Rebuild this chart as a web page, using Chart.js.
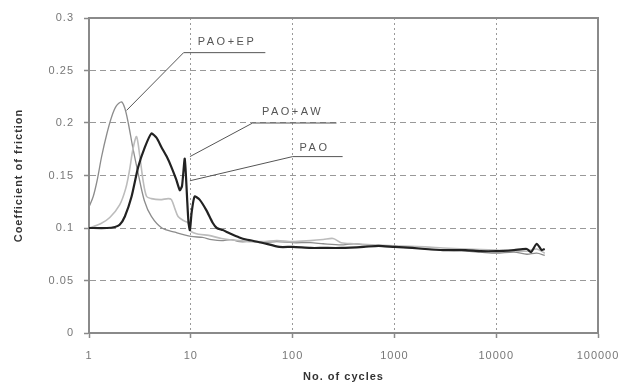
<!DOCTYPE html>
<html>
<head>
<meta charset="utf-8">
<script src="https://cdn.jsdelivr.net/npm/chart.js@4.4.1/dist/chart.umd.min.js"></script>
<style>
  html, body { margin:0; padding:0; background:#fff; }
</style>
</head>
<body>
<canvas id="chartCof" width="633" height="390"></canvas>
<script>
// ==================== Datos ====================
const xTicks = [1, 10, 100, 1000, 10000, 100000];
const yTicks = [0, 0.05, 0.1, 0.15, 0.2, 0.25, 0.3];

const cyclesEP = [1, 1.1, 1.2, 1.33, 1.5, 1.67, 1.85, 2.09, 2.25, 2.43, 2.7, 3.04, 3.5, 4.1, 5.2, 7, 10, 13, 16, 20, 25, 30, 40, 50, 70, 100, 150, 200, 300, 400, 600, 1000, 1500, 2000, 3000, 5000, 7000, 10000, 15000, 20000, 25000, 30000];
const cofEP    = [0.12, 0.13, 0.145, 0.168, 0.19, 0.206, 0.216, 0.22, 0.214, 0.2, 0.176, 0.152, 0.126, 0.111, 0.1, 0.096, 0.092, 0.091, 0.089, 0.088, 0.089, 0.087, 0.087, 0.086, 0.087, 0.086, 0.086, 0.085, 0.084, 0.085, 0.083, 0.082, 0.081, 0.08, 0.079, 0.078, 0.077, 0.076, 0.077, 0.075, 0.076, 0.074];

const cyclesPAO = [1, 1.3, 1.6, 2.0, 2.3, 2.5, 2.7, 2.93, 3.16, 3.4, 3.68, 4.1, 5, 6, 6.45, 7, 7.5, 8.5, 9.4, 10, 12, 15, 20, 30, 50, 70, 100, 150, 200, 250, 300, 400, 600, 1000, 2000, 3000, 5000, 10000, 15000, 20000, 25000, 30000];
const cofPAO    = [0.1, 0.104, 0.11, 0.122, 0.138, 0.155, 0.175, 0.187, 0.168, 0.145, 0.13, 0.128, 0.127, 0.128, 0.127, 0.118, 0.111, 0.107, 0.105, 0.097, 0.094, 0.093, 0.09, 0.088, 0.087, 0.088, 0.087, 0.088, 0.089, 0.09, 0.086, 0.085, 0.084, 0.083, 0.082, 0.081, 0.08, 0.079, 0.078, 0.078, 0.08, 0.076];

const cyclesAW = [1, 1.5, 1.8, 2.0, 2.25, 2.62, 3.04, 3.54, 4.1, 4.6, 5.15, 5.8, 6.45, 7.2, 7.8, 8.2, 8.7, 8.9, 9.2, 9.5, 9.8, 10.2, 10.9, 12.2, 14.2, 16.4, 18, 20.6, 24, 30, 35, 50, 74, 100, 150, 200, 300, 500, 700, 1000, 1500, 2000, 3000, 5000, 7000, 10000, 15000, 20000, 22000, 25000, 28000, 30000];
const cofAW    = [0.1, 0.1, 0.101, 0.103, 0.111, 0.13, 0.158, 0.177, 0.19, 0.186, 0.177, 0.168, 0.158, 0.146, 0.136, 0.14, 0.166, 0.155, 0.128, 0.105, 0.098, 0.115, 0.13, 0.127, 0.117, 0.105, 0.1, 0.098, 0.095, 0.091, 0.089, 0.086, 0.082, 0.082, 0.081, 0.081, 0.081, 0.082, 0.083, 0.082, 0.081, 0.08, 0.079, 0.079, 0.078, 0.078, 0.079, 0.08, 0.077, 0.085, 0.079, 0.08];

// Etiquetas con línea guía: punta, codo, fin del subrayado, posición del texto
const labelNames  = ["PAO+EP", "PAO+AW", "PAO"];
const labelTips   = [[2.34, 0.212], [9.8, 0.168], [9.8, 0.145]];
const labelElbows = [[8.5, 0.267], [40.5, 0.2], [100, 0.168]];
const labelEnds   = [54, 270, 310];
const labelText   = [[11.7, 0.274], [50, 0.208], [117, 0.173]];

const pts = (xs, ys) => xs.map((x, i) => ({ x, y: ys[i] }));
const FONT = "'Liberation Sans', Arial, sans-serif";

// ==================== Plugins ====================
const spacingPlugin = {
  id: "spacing",
  beforeDraw(chart){ chart.ctx.letterSpacing = "1px"; }
};

const framePlugin = {
  id: "frame",
  beforeDatasetsDraw(chart){
    const { ctx, chartArea: a } = chart;
    ctx.save();
    ctx.strokeStyle = "#8a8a8a";
    ctx.lineWidth = 2;
    ctx.strokeRect(a.left, a.top, a.right - a.left, a.bottom - a.top);
    ctx.restore();
  }
};

const leaderPlugin = {
  id: "leaders",
  afterDatasetsDraw(chart){
    const { ctx, scales: { x, y } } = chart;
    ctx.save();
    ctx.strokeStyle = "#555";
    ctx.lineWidth = 1;
    ctx.fillStyle = "#555";
    ctx.font = "11px " + FONT;
    ctx.letterSpacing = "2.5px";
    labelNames.forEach((name, i) => {
      const tx = x.getPixelForValue(labelTips[i][0]), ty = y.getPixelForValue(labelTips[i][1]);
      const ex = x.getPixelForValue(labelElbows[i][0]), ey = y.getPixelForValue(labelElbows[i][1]);
      const ux = x.getPixelForValue(labelEnds[i]);
      ctx.beginPath();
      ctx.moveTo(tx, ty);
      ctx.lineTo(ex, ey);
      ctx.lineTo(ux, ey);
      ctx.stroke();
      ctx.fillText(name, x.getPixelForValue(labelText[i][0]), y.getPixelForValue(labelText[i][1]));
    });
    ctx.restore();
  }
};

// ==================== Gráfica ====================
const el = document.getElementById("chartCof");
new Chart(el.getContext("2d"), {
  type: "line",
  data: {
    datasets: [
      { label:"PAO+EP", data: pts(cyclesEP, cofEP),  borderColor:"#8c8c8c", borderWidth:1.3, pointRadius:0, tension:0.3, order:3 },
      { label:"PAO",    data: pts(cyclesPAO, cofPAO), borderColor:"#bcbcbc", borderWidth:1.6, pointRadius:0, tension:0.3, order:2 },
      { label:"PAO+AW", data: pts(cyclesAW, cofAW),  borderColor:"#222",    borderWidth:2.2, pointRadius:0, tension:0.2, order:1 }
    ]
  },
  options: {
    responsive:false,
    animation:false,
    devicePixelRatio:1,
    layout:{ padding:{ top:18, right:35, left:0, bottom:0 } },
    plugins:{ legend:{ display:false }, tooltip:{ enabled:false } },
    scales:{
      x:{
        type:"logarithmic",
        min:1, max:100000,
        afterBuildTicks(s){ s.ticks = xTicks.map(v => ({ value:v })); },
        afterFit(s){ s.height = 57; },
        ticks:{ color:"#777", font:{ size:11, family:FONT }, padding:11, autoSkip:false,
                maxRotation:0, callback:(v) => String(v) },
        grid:{ color:"#999", lineWidth:1, tickLength:5, tickColor:"#8a8a8a", tickWidth:1.5 },
        border:{ color:"#8a8a8a", width:2, dash:[2,3] },
        title:{ display:true, text:"No. of cycles", color:"#333",
                font:{ size:11, weight:"bold", family:FONT }, padding:{ top:0, bottom:6 } }
      },
      y:{
        min:0, max:0.3,
        afterBuildTicks(s){ s.ticks = yTicks.map(v => ({ value:v })); },
        afterFit(s){ s.width = 89; },
        ticks:{ color:"#777", font:{ size:11, family:FONT }, padding:10, autoSkip:false,
                callback:(v) => String(v) },
        grid:{ color:"#999", lineWidth:1, tickLength:5, tickColor:"#8a8a8a", tickWidth:1.5 },
        border:{ color:"#8a8a8a", width:2, dash:[6,4] },
        title:{ display:true, text:"Coefficient of friction", color:"#333",
                font:{ size:11, weight:"bold", family:FONT }, padding:{ top:12, bottom:0 } }
      }
    }
  },
  plugins:[spacingPlugin, framePlugin, leaderPlugin]
});
</script>
</body>
</html>
